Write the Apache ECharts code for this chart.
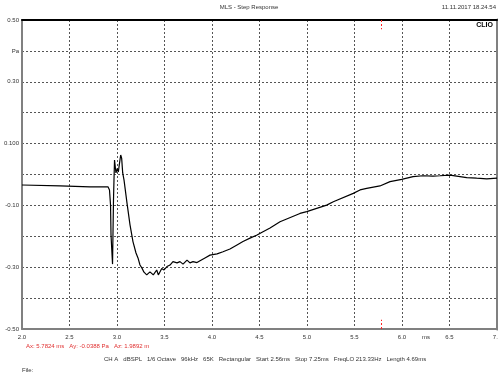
<!DOCTYPE html>
<html><head><meta charset="utf-8">
<script src="https://cdn.jsdelivr.net/npm/echarts@6/dist/echarts.min.js"></script>
<style>html,body{margin:0;padding:0;background:#fff}#c{width:498px;height:378px}</style>
</head><body><div id="c"></div>
<script>
// Step response, time in ms
const timeMs = [2.000,2.400,2.716,2.905,2.921,2.932,2.937,2.953,2.963,2.968,2.974,2.979,2.989,3.003,3.014,3.024,3.039,3.049,3.060,3.074,3.105,3.137,3.168,3.200,3.221,3.242,3.263,3.284,3.313,3.347,3.382,3.418,3.435,3.471,3.495,3.526,3.558,3.589,3.632,3.663,3.695,3.737,3.768,3.800,3.842,3.874,3.926,3.979,4.053,4.116,4.189,4.263,4.326,4.400,4.474,4.537,4.611,4.716,4.926,4.997,5.207,5.277,5.487,5.558,5.628,5.768,5.874,5.997,6.116,6.221,6.326,6.400,6.505,6.576,6.681,6.786,6.892,7.000];
// Pressure in Pa
const pressurePa = [-0.034,-0.037,-0.040,-0.040,-0.050,-0.099,-0.196,-0.290,-0.083,-0.021,0.047,0.041,0.005,0.020,0.008,0.031,0.063,0.053,0.005,-0.018,-0.092,-0.163,-0.217,-0.254,-0.270,-0.293,-0.303,-0.316,-0.325,-0.315,-0.325,-0.309,-0.325,-0.304,-0.309,-0.298,-0.293,-0.282,-0.286,-0.282,-0.290,-0.277,-0.286,-0.282,-0.285,-0.279,-0.270,-0.261,-0.257,-0.250,-0.241,-0.228,-0.217,-0.206,-0.196,-0.185,-0.173,-0.153,-0.126,-0.120,-0.099,-0.088,-0.061,-0.050,-0.045,-0.037,-0.023,-0.016,-0.007,-0.004,-0.005,-0.004,-0.002,-0.005,-0.010,-0.012,-0.014,-0.012];
// Y tick labels as printed by the analyser
const yTickLabels = {"0.5":"0.50","0.4":"Pa","0.3":"0.30","0.1":"0.100","-0.1":"-0.10","-0.3":"-0.30","-0.5":"-0.50"};
const cursorMs = 5.7824;
const titleText = "MLS - Step Response";
const dateText = "11.11.2017 18.24.54";
const cursorText = "Ax: 5.7824 ms   Ay: -0.0388 Pa   Az: 1.9892 m";
const infoText = "CH A   dBSPL   1/6 Octave   96kHz   65K   Rectangular   Start 2.56ms   Stop 7.25ms   FreqLO 213.33Hz   Length 4.69ms";

const FONT = "Liberation Sans, Arial, sans-serif";
const chart = echarts.init(document.getElementById('c'), null, {renderer:'canvas'});
const grid = {left:22, right:1, top:20, bottom:49, outerBoundsMode:'none', containLabel:false};
chart.setOption({
  animation:false,
  backgroundColor:'#fff',
  grid: grid,
  xAxis:[{
    type:'value', min:2, max:7, interval:0.5, position:'bottom',
    axisLine:{show:true, onZero:false, lineStyle:{color:'#808080', width:2}},
    axisTick:{show:false},
    axisLabel:{color:'#333', fontSize:6, fontFamily:FONT, margin:5,
      formatter:v=>v.toFixed(1)},
    splitLine:{show:true, lineStyle:{color:'#555', type:[2,2], width:1}}
  },{
    type:'value', min:2, max:7, position:'top',
    axisLine:{show:true, onZero:false, lineStyle:{color:'#000', width:2}},
    axisTick:{show:false}, axisLabel:{show:false}, splitLine:{show:false}
  }],
  yAxis:[{
    type:'value', min:-0.5, max:0.5, interval:0.1, position:'left',
    axisLine:{show:true, onZero:false, lineStyle:{color:'#808080', width:2}},
    axisTick:{show:false},
    axisLabel:{color:'#333', fontSize:6, fontFamily:FONT, margin:3,
      formatter:v=>{const k=String(Math.round(v*10)/10); return yTickLabels[k]||'';}},
    splitLine:{show:true, lineStyle:{color:'#555', type:[2,2], width:1}}
  },{
    type:'value', min:-0.5, max:0.5, position:'right',
    axisLine:{show:true, onZero:false, lineStyle:{color:'#808080', width:3}},
    axisTick:{show:false}, axisLabel:{show:false}, splitLine:{show:false}
  }],
  series:[{
    type:'line', xAxisIndex:0, yAxisIndex:0,
    data: timeMs.map((t,i)=>[t, pressurePa[i]]),
    showSymbol:false, lineStyle:{color:'#000', width:1.2},
    markLine:{silent:true, symbol:'none', label:{show:false},
      lineStyle:{color:'#ff2020', type:[2,2], width:1, opacity:1},
      emphasis:{disabled:true},
      data:[
        [{coord:[cursorMs,0.5]},{coord:[cursorMs,0.47]}],
        [{coord:[cursorMs,-0.5]},{coord:[cursorMs,-0.47]}]
      ]}
  }],
  graphic:[
    {type:'text', left:'center', top:4, style:{text:titleText, fill:'#333', font:'6px '+FONT}},
    {type:'text', right:2, top:4, style:{text:dateText, fill:'#333', font:'6px '+FONT}},
    {type:'text', right:5, top:22, style:{text:'CLIO', fill:'#000', font:'bold 7px '+FONT}},
    {type:'text', left:422, top:334, style:{text:'ms', fill:'#333', font:'6px '+FONT}},
    {type:'text', left:26, top:343, style:{text:cursorText, fill:'#e03030', font:'6px '+FONT}},
    {type:'text', left:104, top:356, style:{text:infoText, fill:'#333', font:'6px '+FONT}},
    {type:'text', left:22, top:367, style:{text:'File:', fill:'#333', font:'6px '+FONT}}
  ]
});
</script></body></html>
